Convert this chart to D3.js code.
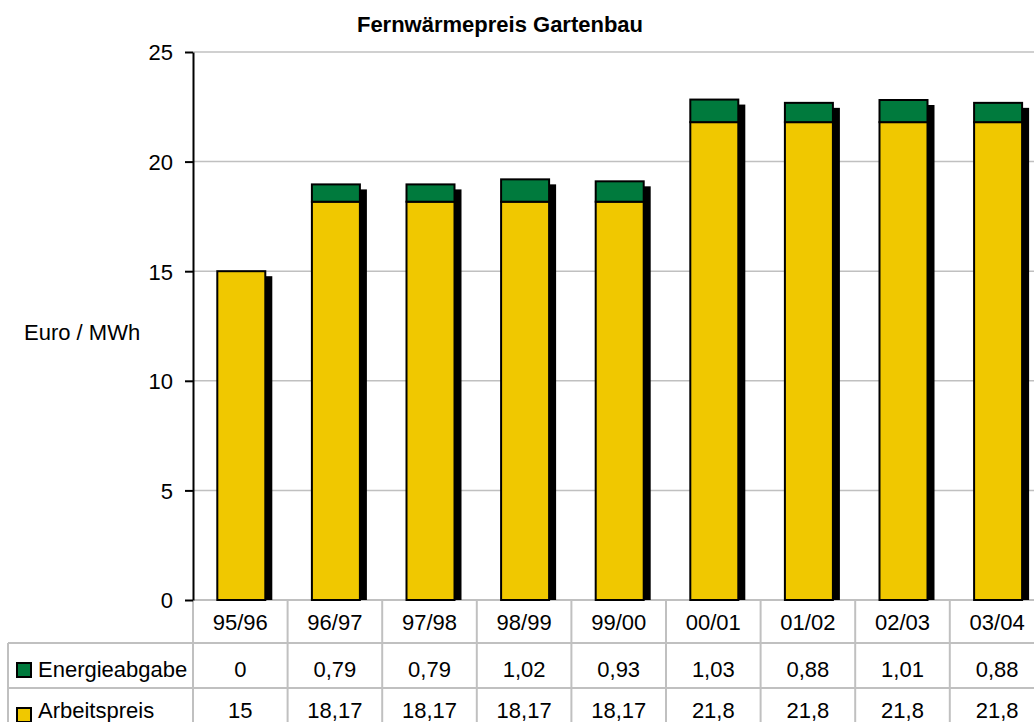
<!DOCTYPE html>
<html>
<head>
<meta charset="utf-8">
<script src="https://cdn.jsdelivr.net/npm/d3@7"></script>
<style>
  html, body { margin: 0; padding: 0; background: #fff; }
  svg { display: block; font-family: "Liberation Sans", Arial, sans-serif; }
</style>
</head>
<body>
<svg id="chart" width="1034" height="722"></svg>
<script>
// Fernwärmepreis Gartenbau, Euro / MWh per season
const categories = ["95/96", "96/97", "97/98", "98/99", "99/00", "00/01", "01/02", "02/03", "03/04"];
const arbeitspreis = [15, 18.17, 18.17, 18.17, 18.17, 21.8, 21.8, 21.8, 21.8];
const energieabgabe = [0, 0.79, 0.79, 1.02, 0.93, 1.03, 0.88, 1.01, 0.88];
const yTicks = [0, 5, 10, 15, 20, 25];
const seriesNames = ["Energieabgabe", "Arbeitspreis"];

const colYellow = "#F0C800";
const colGreen = "#007A3D";
const gridCol = "#c0c0c0";
const fs = 22;

const svg = d3.select("#chart");
const W = 1034, H = 722;

const plotLeft = 193, plotTop = 52, plotBottom = 600;
const colW = 94.6;
const x = d3.scaleBand().domain(categories).range([plotLeft, plotLeft + colW * categories.length]).padding(0);
const y = d3.scaleLinear().domain([0, 25]).range([plotBottom, plotTop]);
const barW = 48;

const fmt = v => String(v).replace(".", ",");

// title
svg.append("text")
  .attr("x", 500).attr("y", 32)
  .attr("text-anchor", "middle")
  .attr("font-size", fs).attr("font-weight", "bold")
  .text("Fernwärmepreis Gartenbau");

// axis title
svg.append("text")
  .attr("x", 24).attr("y", 340)
  .attr("font-size", fs)
  .text("Euro / MWh");

// horizontal gridlines
svg.append("g").selectAll("line")
  .data(yTicks.filter(t => t > 0))
  .join("line")
  .attr("x1", plotLeft).attr("x2", W)
  .attr("y1", d => y(d)).attr("y2", d => y(d))
  .attr("stroke", gridCol).attr("stroke-width", 1.5);

// data table grid
const tableTop = plotBottom, row1 = 643, row2 = 688;
const grid = svg.append("g").attr("stroke", gridCol).attr("stroke-width", 2);
grid.append("line").attr("x1", plotLeft).attr("x2", W).attr("y1", tableTop).attr("y2", tableTop);
grid.append("line").attr("x1", 8).attr("x2", W).attr("y1", row1).attr("y2", row1);
grid.append("line").attr("x1", 8).attr("x2", W).attr("y1", row2).attr("y2", row2);
grid.append("line").attr("x1", 8).attr("x2", 8).attr("y1", row1).attr("y2", H);
grid.selectAll("line.col")
  .data(categories.map(c => x(c)).concat([x(categories[categories.length - 1]) + x.bandwidth()]))
  .join("line").attr("class", "col")
  .attr("x1", d => d).attr("x2", d => d)
  .attr("y1", tableTop).attr("y2", H);

// bars
const bars = svg.append("g").selectAll("g")
  .data(categories.map((c, i) => ({ c, a: arbeitspreis[i], e: energieabgabe[i] })))
  .join("g")
  .attr("transform", d => `translate(${x(d.c) + (x.bandwidth() - barW) / 2 + 1},0)`);

// drop shadow
bars.append("rect")
  .attr("x", 7)
  .attr("y", d => y(d.a + d.e) + 5)
  .attr("width", barW)
  .attr("height", d => plotBottom - (y(d.a + d.e) + 5))
  .attr("fill", "#000");

bars.append("rect")
  .attr("x", 0).attr("y", d => y(d.a))
  .attr("width", barW).attr("height", d => plotBottom - y(d.a))
  .attr("fill", colYellow).attr("stroke", "#000").attr("stroke-width", 2);

bars.append("rect")
  .attr("x", 0).attr("y", d => y(d.a + d.e))
  .attr("width", barW).attr("height", d => y(d.a) - y(d.a + d.e))
  .attr("fill", colGreen).attr("stroke", "#000").attr("stroke-width", 2);

// y axis
const yAxis = svg.append("g")
  .attr("transform", `translate(${plotLeft},0)`)
  .call(d3.axisLeft(y).tickValues(yTicks).tickSize(8).tickPadding(12).tickSizeOuter(0));
yAxis.select(".domain").attr("stroke", "#000").attr("stroke-width", 2);
yAxis.selectAll(".tick line").attr("stroke", "#000").attr("stroke-width", 2);
yAxis.selectAll(".tick text")
  .attr("font-size", fs).attr("font-family", "Liberation Sans, Arial, sans-serif")
  .attr("fill", "#000").attr("dy", "0.36em");

// table: category labels
svg.append("g").selectAll("text")
  .data(categories).join("text")
  .attr("x", d => x(d) + x.bandwidth() / 2).attr("y", 630)
  .attr("text-anchor", "middle").attr("font-size", fs)
  .text(d => d);

// table: values rows
const rows = [
  { name: seriesNames[0], color: colGreen, vals: energieabgabe, base: 677, sq: 663 },
  { name: seriesNames[1], color: colYellow, vals: arbeitspreis, base: 718, sq: 708 }
];
rows.forEach(r => {
  svg.append("rect")
    .attr("x", 17).attr("y", r.sq).attr("width", 14).attr("height", 14)
    .attr("fill", r.color).attr("stroke", "#000").attr("stroke-width", 2);
  svg.append("text")
    .attr("x", 38).attr("y", r.base).attr("font-size", fs)
    .text(r.name);
  svg.append("g").selectAll("text")
    .data(categories.map((c, i) => ({ c, v: r.vals[i] })))
    .join("text")
    .attr("x", d => x(d.c) + x.bandwidth() / 2).attr("y", r.base)
    .attr("text-anchor", "middle").attr("font-size", fs)
    .text(d => fmt(d.v));
});
</script>
</body>
</html>
